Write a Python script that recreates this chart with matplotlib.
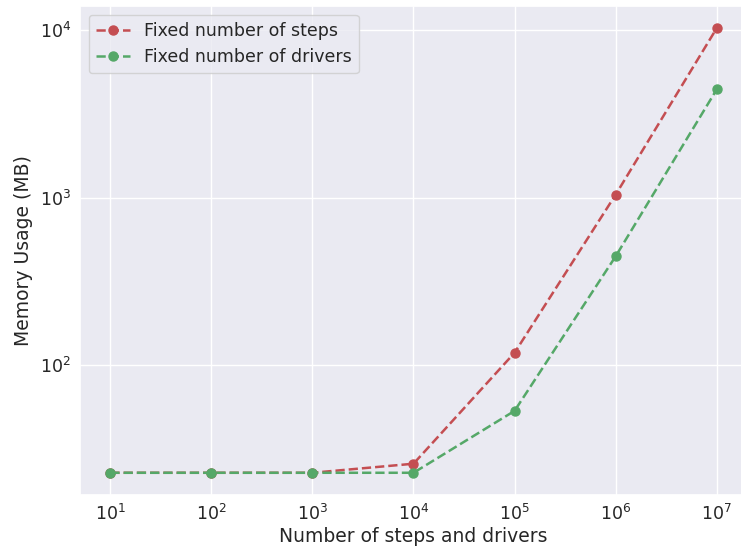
import numpy as np
import matplotlib
matplotlib.use("Agg")
import matplotlib.pyplot as plt
import seaborn as sns

sns.set_theme(style="darkgrid", color_codes=True)
plt.rcParams['font.family'] = ['DejaVu Sans']

# problem sizes and memory footprint (MB)
sizes = [1e1, 1e2, 1e3, 1e4, 1e5, 1e6, 1e7]
mem_fixed_steps = [22.6, 22.6, 22.6, 25.6, 118, 1040, 10300]
mem_fixed_drivers = [22.6, 22.6, 22.6, 22.6, 53, 445, 4430]

fig = plt.figure(figsize=(7.41, 5.49), dpi=100)
ax = fig.add_axes([80/741, 1 - 495/549, 667/741, 489/549])

ax.plot(sizes, mem_fixed_steps, 'r--o', lw=1.8, ms=6.5, label='Fixed number of steps')
ax.plot(sizes, mem_fixed_drivers, 'g--o', lw=1.8, ms=6.5, label='Fixed number of drivers')
ax.set_xscale('log')
ax.set_yscale('log')

ax.set_xlabel('Number of steps and drivers', fontsize=13.5, labelpad=2)
ax.set_ylabel('Memory Usage (MB)', fontsize=13.5, labelpad=5)
ax.tick_params(labelsize=12.5, pad=0.5)
ax.legend(loc='upper left', fontsize=12.5)

fig.savefig('out.png', dpi=100)
